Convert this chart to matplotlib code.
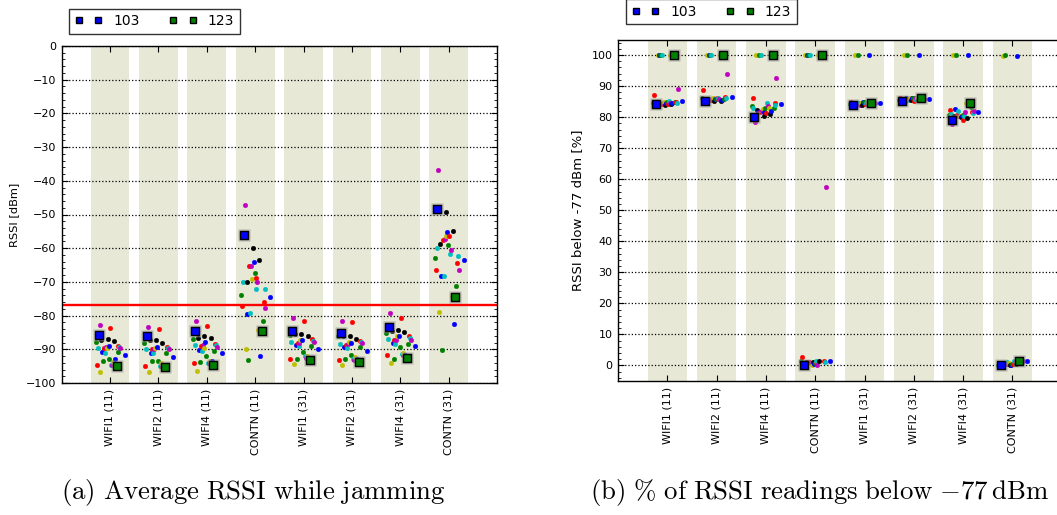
import matplotlib
matplotlib.use('Agg')
import matplotlib.pyplot as plt
from matplotlib.ticker import MultipleLocator

# ---------------- data ----------------
categories = ['WIFI1 (11)', 'WIFI2 (11)', 'WIFI4 (11)', 'CONTN (11)',
              'WIFI1 (31)', 'WIFI2 (31)', 'WIFI4 (31)', 'CONTN (31)']

# node ids of the small dots (nodes 103 and 123 are drawn as squares)
nodes = [100, 101, 102, 104, 105, 106, 107, 108, 109, 110, 111, 112, 113,
         114, 115, 116, 117, 118, 119, 120, 121, 124, 125, 126, 127, 132]

# (a) average RSSI [dBm] per node, one list per category
rssi_wifi1_11 = [-87.7, -94.7, -89.5, -82.8, -96.6, -87.1, -90.8, -93.6, -89.5, -91.0, -89.4, -89.5, -86.9,
                 -88.9, -92.9, -83.7, -94.8, -94.8, -93.9, -87.6, -93.0, -90.8, -89.0, -89.3, -89.5, -91.8]
rssi_wifi2_11 = [-88.0, -95.1, -89.8, -83.3, -96.6, -87.2, -91.0, -93.4, -90.0, -91.2, -90.0, -89.7, -87.2,
                 -89.3, -93.4, -84.0, -95.0, -95.1, -94.2, -88.1, -94.7, -91.0, -89.3, -89.5, -89.9, -92.2]
rssi_wifi4_11 = [-87.0, -94.0, -88.8, -81.5, -96.3, -86.5, -90.3, -93.7, -89.0, -90.5, -88.7, -89.5, -86.0,
                 -87.9, -92.1, -83.2, -94.0, -94.2, -93.6, -86.6, -93.5, -90.5, -88.4, -88.6, -89.2, -91.2]
rssi_contn_11 = [-73.9, -77.1, -69.9, -47.2, -90.0, -69.9, -79.6, -93.1, -65.3, -79.3, -65.3, -69.0, -59.8,
                 -64.1, -67.3, -68.9, -72.1, -69.9, -84.3, -63.4, -92.0, -81.6, -76.0, -72.2, -77.8, -74.4]
rssi_wifi1_31 = [-85.9, -93.0, -87.9, -80.8, -94.5, -85.6, -88.8, -93.0, -88.1, -89.1, -88.1, -87.1, -85.5,
                 -87.3, -90.8, -81.6, -92.0, -92.7, -92.0, -86.1, -92.5, -89.1, -86.9, -87.5, -87.8, -90.0]
rssi_wifi2_31 = [-86.0, -93.3, -88.3, -81.6, -94.8, -86.1, -89.2, -93.0, -88.6, -89.6, -88.5, -87.7, -86.1,
                 -88.0, -91.6, -81.9, -93.0, -93.3, -92.3, -86.8, -92.8, -89.4, -87.4, -87.8, -88.1, -90.4]
rssi_wifi4_31 = [-85.1, -91.8, -86.8, -79.3, -94.1, -84.6, -88.1, -92.8, -87.1, -88.4, -87.1, -86.1, -84.3,
                 -86.1, -89.4, -80.6, -91.5, -91.8, -91.2, -85.0, -91.8, -88.4, -86.1, -86.6, -87.1, -89.1]
rssi_contn_31 = [-63.0, -66.4, -60.0, -36.9, -78.9, -58.7, -68.2, -90.2, -57.7, -68.2, -57.3, -56.4, -49.3,
                 -55.3, -59.1, -56.3, -61.6, -60.5, -74.3, -54.9, -82.6, -71.3, -64.3, -62.4, -66.5, -63.4]
rssi_node103 = [-85.7, -86.2, -84.6, -56.0, -84.6, -85.1, -83.3, -48.3]
rssi_node123 = [-95.1, -95.3, -94.8, -84.7, -93.2, -93.7, -92.7, -74.6]

# (b) % of RSSI readings below -77 dBm per node
pct_wifi1_11 = [84.6, 87.1, 84.5, 84.3, 100, 84.0, 100, 100, 84.2, 100, 84.6, 84.8, 83.9,
                84.5, 84.9, 84.3, 85.3, 84.6, 100, 84.1, 84.5, 84.8, 85.0, 84.4, 89.0, 85.1]
pct_wifi2_11 = [86.0, 88.7, 85.6, 85.0, 100, 85.5, 100, 100, 85.5, 100, 85.8, 86.0, 85.3,
                85.8, 85.8, 86.0, 86.2, 85.9, 100, 85.3, 85.6, 85.9, 86.6, 86.0, 94.0, 86.6]
pct_wifi4_11 = [83.5, 86.0, 82.8, 78.5, 100, 82.3, 81.5, 100, 81.7, 100, 82.0, 82.5, 80.3,
                81.5, 83.0, 81.2, 84.4, 83.5, 83.0, 81.1, 82.0, 83.0, 84.7, 83.8, 92.5, 84.2]
pct_contn_11 = [1.3, 2.7, 0.5, 0.4, 100, 1.2, 100, 100, 1.1, 100, 0.8, 0.0, 1.2,
                0.6, 0.8, 1.2, 1.4, 0.0, 100, 1.3, 100, 100, 1.4, 1.1, 57.5, 1.6]
pct_wifi1_31 = [84.2, 84.8, 84.0, 83.9, 100, 84.1, 84.5, 100, 84.2, 84.4, 83.9, 84.6, 84.0,
                84.8, 84.9, 84.3, 84.6, 84.2, 84.5, 84.1, 100, 84.9, 84.6, 84.3, 84.4, 84.4]
pct_wifi2_31 = [85.5, 86.0, 85.4, 85.6, 100, 85.3, 86.2, 100, 85.8, 85.6, 85.9, 86.0, 85.5,
                86.1, 86.2, 85.3, 85.9, 86.0, 86.2, 85.6, 100, 86.2, 86.3, 86.0, 85.8, 85.7]
pct_wifi4_31 = [80.6, 82.3, 81.0, 77.7, 100, 80.5, 82.6, 100, 80.8, 81.9, 80.2, 80.5, 79.9,
                80.3, 80.6, 79.2, 80.4, 81.5, 84.4, 79.8, 100, 83.3, 81.5, 81.2, 81.9, 81.7]
pct_contn_31 = [0.0, 0.9, 0.8, 0.6, 99.6, 0.8, 0.5, 100, 0.7, 1.2, 0.4, 0.9, 0.3,
                0.1, 0.6, 0.4, 1.3, 1.1, 0.9, 0.5, 99.7, 1.0, 1.2, 1.4, 1.4, 1.3]
pct_node103 = [84.2, 85.2, 79.9, 0.2, 83.8, 85.2, 79.2, 0.0]
pct_node123 = [100, 100, 100, 100, 84.6, 86.0, 84.6, 1.6]

legend_labels = ['103', '123']
threshold = -77

rssi_groups = [rssi_wifi1_11, rssi_wifi2_11, rssi_wifi4_11, rssi_contn_11,
               rssi_wifi1_31, rssi_wifi2_31, rssi_wifi4_31, rssi_contn_31]
pct_groups = [pct_wifi1_11, pct_wifi2_11, pct_wifi4_11, pct_contn_11,
              pct_wifi1_31, pct_wifi2_31, pct_wifi4_31, pct_contn_31]

# ---------------- style ----------------
plt.rcParams['mathtext.fontset'] = 'cm'
plt.rcParams['font.family'] = ['DejaVu Sans']
node_colors = list('grcmykbgrcmykbgrcmykbgrcmb')
cmap = {'b': (0, 0, 1), 'g': (0, 0.5, 0), 'r': (1, 0, 0), 'c': (0, 0.75, 0.75),
        'm': (0.75, 0, 0.75), 'y': (0.75, 0.75, 0), 'k': (0, 0, 0)}
band_color = '#e7e8d5'
spread = 0.0186          # x offset per node id
center_node = 115.6

W, H = 1057, 515
fig = plt.figure(figsize=(W / 100, H / 100), dpi=100)
ax1 = fig.add_axes([61.6 / W, 1 - 383 / H, 435.6 / W, 337 / H])
ax2 = fig.add_axes([618 / W, 1 - 381 / H, 443.7 / W, 341.5 / H])


def draw(ax, groups, sq103, sq123):
    xs = range(1, len(categories) + 1)
    for gi, vals in zip(xs, groups):
        ax.axvspan(gi - 0.4, gi + 0.4, color=band_color, lw=0, zorder=0)
        for node, col, v in zip(nodes, node_colors, vals):
            ax.plot(gi + (node - center_node) * spread, v, 'o', ms=3.4,
                    color=cmap[col], mec=cmap[col], mew=0.2, zorder=2)
    handles = []
    for node, vals, col in ((103, sq103, 'b'), (123, sq123, 'g')):
        x = [gi + (node - center_node) * spread for gi in xs]
        ax.plot(x, vals, 's', ms=8, color='0.55', alpha=0.55, mec='none',
                ls='none', zorder=3)
        h, = ax.plot(x, vals, 's', ms=5.8, color=cmap[col], mec='k', mew=1.0,
                     ls='none', zorder=4)
        handles.append(h)
    ax.set_xlim(0, len(categories) + 1)
    ax.set_xticks(list(xs))
    ax.set_xticklabels(categories, rotation=90, fontsize=8)
    ax.yaxis.grid(True, ls=':', color='k', lw=0.9)
    ax.xaxis.grid(False)
    ax.yaxis.set_minor_locator(MultipleLocator(2))
    ax.tick_params(which='both', direction='in', top=True, right=True)
    ax.tick_params(which='major', length=4, labelsize=8, pad=4)
    ax.tick_params(which='minor', length=2)
    for s in ax.spines.values():
        s.set_linewidth(1.0)
    return handles


h1 = draw(ax1, rssi_groups, rssi_node103, rssi_node123)
ax1.axhline(threshold, color='red', lw=1.7, zorder=2.5)
ax1.set_ylim(-100, 0)
ax1.set_yticks(range(-100, 1, 10))
ax1.set_ylabel('RSSI [dBm]', fontsize=8.2, labelpad=5)

h2 = draw(ax2, pct_groups, pct_node103, pct_node123)
ax2.set_ylim(-5, 105)
ax2.set_yticks(range(0, 101, 10))
ax2.set_ylabel('RSSI below -77 dBm [%]', fontsize=9.5, labelpad=5)

for ax, hs, anchor in ((ax1, h1, (0.017, 1.036)), (ax2, h2, (0.018, 1.045))):
    leg = ax.legend(hs, legend_labels, loc='lower left', bbox_to_anchor=anchor,
                    ncol=2, numpoints=2, fontsize=10, borderaxespad=0,
                    fancybox=False, framealpha=1, handlelength=2,
                    handletextpad=0.8, columnspacing=2.1)
    leg.get_frame().set_edgecolor('0.2')
    leg.get_frame().set_linewidth(1.0)
    for lh in leg.legend_handles:
        lh.set_markersize(4.5)

fig.text(253 / W, 1 - 493 / H, r'$\mathrm{(a)\ Average\ RSSI\ while\ jamming}$',
         ha='center', va='center', fontsize=19.3)
fig.text(819 / W, 1 - 493 / H,
         r'$\mathrm{(b)\ \%\ of\ RSSI\ readings\ below\ }{-77}\,\mathrm{dBm}$',
         ha='center', va='center', fontsize=19.3)

fig.savefig('out.png', dpi=100)
